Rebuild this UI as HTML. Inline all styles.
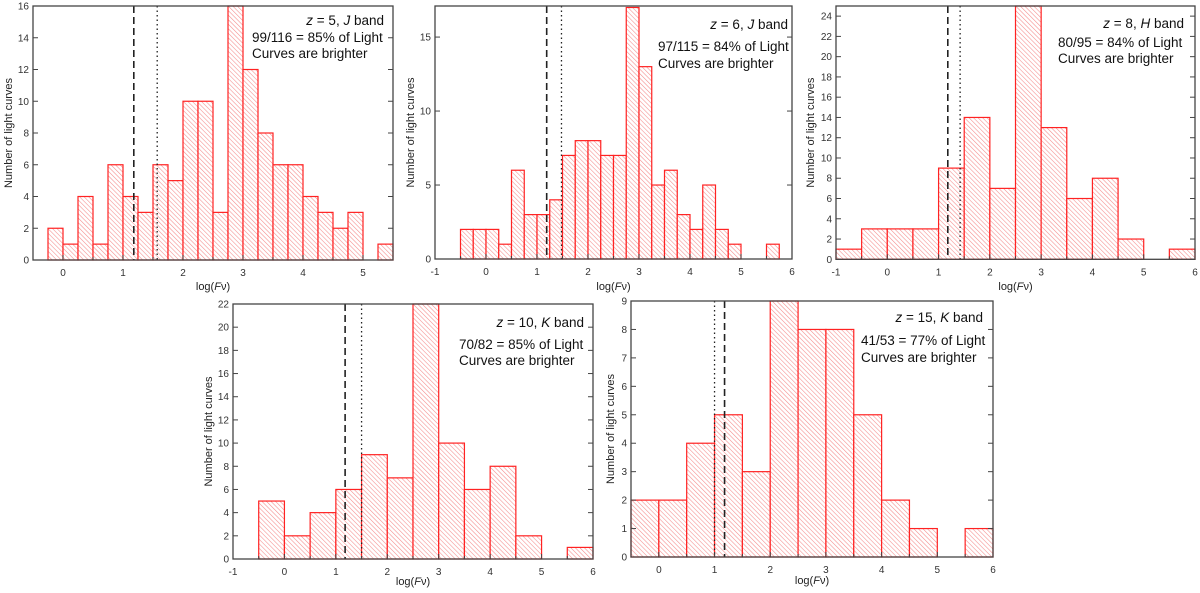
<!DOCTYPE html>
<html><head><meta charset="utf-8"><style>
html,body{margin:0;padding:0;background:#fff;}
svg{display:block;font-family:"Liberation Sans",Arial,sans-serif;}
</style></head><body>
<svg id="fig" width="1200" height="593" viewBox="0 0 1200 593">
<defs>
<pattern id="hatch" patternUnits="userSpaceOnUse" width="3.2" height="3.2" patternTransform="rotate(-45)">
<rect width="3.2" height="3.2" fill="#fff"/>
<line x1="0" y1="0" x2="0" y2="3.2" stroke="#f58a8a" stroke-width="1.1"/>
</pattern>
</defs>
</svg>
<script>
// ---- data ----
const p1Counts=[2,1,4,1,6,4,3,6,5,10,10,3,16,12,8,6,6,4,3,2,3,0,1];
const p2Counts=[2,2,2,1,6,3,3,4,7,8,8,7,7,17,13,5,6,3,2,5,2,1,0,0,1];
const p3Counts=[1,3,3,3,9,14,7,25,13,6,8,2,0,1];
const p4Counts=[5,2,4,6,9,7,22,10,6,8,2,0,1];
const p5Counts=[2,2,4,5,3,9,8,8,5,2,1,0,1];
const p1Lines=[1.18,1.57];
const p2Lines=[1.19,1.48];
const p3Lines=[1.18,1.42];
const p4Lines=[1.18,1.5];
const p5Lines=[1.18,1.0];
const p1XTicks=[0,1,2,3,4,5];
const p2XTicks=[-1,0,1,2,3,4,5,6];
const p3XTicks=[-1,0,1,2,3,4,5,6];
const p4XTicks=[-1,0,1,2,3,4,5,6];
const p5XTicks=[0,1,2,3,4,5,6];
const p1YTicks=[0,2,4,6,8,10,12,14,16];
const p2YTicks=[0,5,10,15];
const p3YTicks=[0,2,4,6,8,10,12,14,16,18,20,22,24];
const p4YTicks=[0,2,4,6,8,10,12,14,16,18,20,22];
const p5YTicks=[0,1,2,3,4,5,6,7,8,9];
const p1Text=["z = 5, ","J"," band","99/116 = 85% of Light","Curves are brighter"];
const p2Text=["z = 6, ","J"," band","97/115 = 84% of Light","Curves are brighter"];
const p3Text=["z = 8, ","H"," band","80/95 = 84% of Light","Curves are brighter"];
const p4Text=["z = 10, ","K"," band","70/82 = 85% of Light","Curves are brighter"];
const p5Text=["z = 15, ","K"," band","41/53 = 77% of Light","Curves are brighter"];

const NS="http://www.w3.org/2000/svg";
const svg=document.getElementById('fig');
function mk(tag,attrs,parent){const e=document.createElementNS(NS,tag);for(const k in attrs)e.setAttribute(k,attrs[k]);(parent||svg).appendChild(e);return e;}

function panel(o){
  const g=mk('g',{});
  
  
  const sx=v=>o.L+(v-o.x0)/(o.x1-o.x0)*(o.R-o.L);
  const sy=v=>o.B-(v-o.y0)/(o.y1-o.y0)*(o.B-o.T);
  o.counts.forEach((c,i)=>{
    if(c<=0)return;
    const a=o.start+i*o.w,b=a+o.w;
    const top=Math.max(sy(c),o.T);
    const r=mk('rect',{x:sx(a),y:top,width:sx(b)-sx(a),height:o.B-top,fill:'url(#hatch)',stroke:'#f22',"stroke-width":1.2},g);
    
    
  });
  const dl=mk('line',{x1:sx(o.lines[0]),x2:sx(o.lines[0]),y1:o.T,y2:o.B,stroke:'#222',"stroke-width":1.6,"stroke-dasharray":"7,4"},g);
  
  
  const dt=mk('line',{x1:sx(o.lines[1]),x2:sx(o.lines[1]),y1:o.T,y2:o.B,stroke:'#222',"stroke-width":1.3,"stroke-dasharray":"1.5,3"},g);
  
  
  const fr=mk('rect',{x:o.L,y:o.T,width:o.R-o.L,height:o.B-o.T,fill:'none',stroke:'#444',"stroke-width":1.3},g);
  
  
  o.xt.forEach(v=>{
    const x=sx(v);
    mk('line',{x1:x,x2:x,y1:o.B,y2:o.B-5,stroke:'#444'},g);
    if(v+0.5<o.x1) mk('line',{x1:sx(v+0.5),x2:sx(v+0.5),y1:o.B,y2:o.B-3,stroke:'#444'},g);
    const t=mk('text',{x:x,y:o.B+16,"text-anchor":"middle","font-size":10,fill:'#333'},g);
    t.textContent=String(v);
    
    
  });
  o.yt.forEach(v=>{
    const y=sy(v);
    mk('line',{x1:o.L,x2:o.L+5,y1:y,y2:y,stroke:'#444'},g);
    mk('line',{x1:o.R,x2:o.R-5,y1:y,y2:y,stroke:'#444'},g);
    const t=mk('text',{x:o.L-4,y:y+3.5,"text-anchor":"end","font-size":10,fill:'#333'},g);
    t.textContent=String(v);
    
    
  });
  const xt=mk('text',{x:(o.L+o.R)/2,y:o.xtY,"text-anchor":"middle","font-size":11,fill:'#222'},g);
  xt.innerHTML='log(<tspan font-style="italic">F</tspan>ν)';
  
  
  const yt=mk('text',{x:0,y:0,"text-anchor":"middle","font-size":11,fill:'#222',transform:`translate(${o.ytX},${(o.T+o.B)/2}) rotate(-90)`},g);
  yt.textContent='Number of light curves';
  
  
  const a1=mk('text',{x:o.ar,y:o.ay[0],"text-anchor":"end","font-size":13.5,fill:'#111'},g);
  a1.innerHTML='<tspan font-style="italic">z</tspan> = '+o.text[0].slice(4)+'<tspan font-style="italic">'+o.text[1]+'</tspan>'+o.text[2];
  
  
  [3,4].forEach((k,j)=>{
    const t=mk('text',{x:o.al,y:o.ay[j+1],"font-size":13.5,fill:'#111'},g);
    t.textContent=o.text[k];
    
    
  });
}

panel({name:'panel-z5-j-band',counts:p1Counts,start:-0.25,w:0.25,lines:p1Lines,xt:p1XTicks,yt:p1YTicks,text:p1Text,
 L:33,R:393,T:6,B:260,x0:-0.5,x1:5.5,y0:0,y1:16,xtY:290,ytX:12,ar:384,al:252,ay:[25,42,58]});
panel({name:'panel-z6-j-band',counts:p2Counts,start:-0.5,w:0.25,lines:p2Lines,xt:p2XTicks,yt:p2YTicks,text:p2Text,
 L:435,R:792,T:6,B:259,x0:-1,x1:6,y0:0,y1:17.1,xtY:290,ytX:414,ar:788,al:658,ay:[29,51,68]});
panel({name:'panel-z8-h-band',counts:p3Counts,start:-1,w:0.5,lines:p3Lines,xt:p3XTicks,yt:p3YTicks,text:p3Text,
 L:836,R:1195,T:6,B:259.3,x0:-1,x1:6,y0:0,y1:25,xtY:290,ytX:814,ar:1184,al:1058,ay:[28,47,63]});
panel({name:'panel-z10-k-band',counts:p4Counts,start:-0.5,w:0.5,lines:p4Lines,xt:p4XTicks,yt:p4YTicks,text:p4Text,
 L:233,R:593,T:304,B:559,x0:-1,x1:6,y0:0,y1:22,xtY:585,ytX:212,ar:584,al:459,ay:[327,349,365]});
panel({name:'panel-z15-k-band',counts:p5Counts,start:-0.5,w:0.5,lines:p5Lines,xt:p5XTicks,yt:p5YTicks,text:p5Text,
 L:631,R:993,T:301,B:557,x0:-0.5,x1:6,y0:0,y1:9,xtY:584,ytX:614,ar:983,al:861,ay:[322,345,362]});
</script>
</body></html>
